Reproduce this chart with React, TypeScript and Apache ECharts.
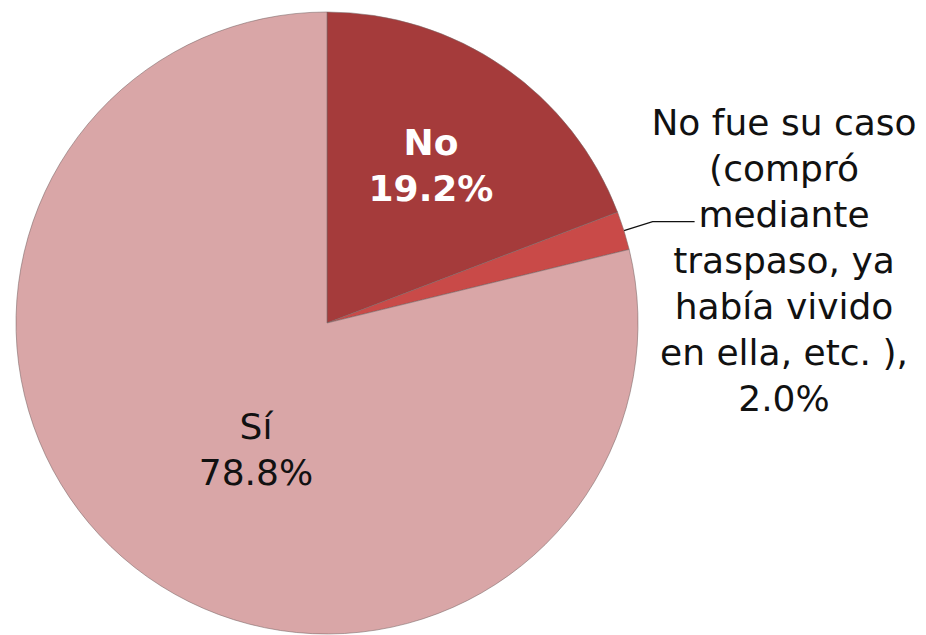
import React, { useEffect, useRef } from "react";
import * as echarts from "echarts";

const categories = [
  "No",
  "No fue su caso\n(compró\nmediante\ntraspaso, ya\nhabía vivido\nen ella, etc. )",
  "Sí",
];
const values = [19.2, 2.0, 78.8];
const colors = ["#A53B3B", "#C94A48", "#D9A6A7"];

export default function App() {
  const ref = useRef<HTMLDivElement>(null);
  useEffect(() => {
    document.body.style.margin = "0";
    const chart = echarts.init(ref.current!, null, { renderer: "svg" });
    const font = "'DejaVu Sans', Verdana, sans-serif";
    const labelPos = [
      { x: 431, y: 165 },
      { x: 784, y: 260 },
      { x: 256, y: 449 },
    ];
    chart.setOption({
      animation: false,
      backgroundColor: "#ffffff",
      series: [
        {
          type: "pie",
          center: [327, 323],
          radius: 311,
          startAngle: 90,
          clockwise: true,
          avoidLabelOverlap: false,
          itemStyle: { borderColor: "rgba(120,100,100,0.55)", borderWidth: 1 },
          label: {
            fontFamily: font,
            fontSize: 36,
            lineHeight: 46,
            color: "#111",
            align: "center",
          },
          labelLine: {
            length: 30,
            length2: 42,
            lineStyle: { color: "#111", width: 1.3 },
          },
          labelLayout: (p: any) => {
            const pos = labelPos[p.dataIndex];
            const out: any = { x: pos.x, y: pos.y, align: "center", verticalAlign: "middle" };
            if (p.dataIndex === 1) out.labelLinePoints = p.labelLinePoints;
            return out;
          },
          data: categories.map((name, i) => ({
            name,
            value: values[i],
            itemStyle: { color: colors[i] },
            label:
              i === 0
                ? {
                    position: "inside",
                    color: "#ffffff",
                    fontWeight: "bold",
                    formatter: (p: any) => `${p.name}\n${p.value.toFixed(1)}%`,
                  }
                : i === 1
                ? {
                    position: "outside",
                    formatter: (p: any) => `${p.name},\n${p.value.toFixed(1)}%`,
                  }
                : {
                    position: "inside",
                    color: "#111",
                    formatter: (p: any) => `${p.name}\n${p.value.toFixed(1)}%`,
                  },
            labelLine: { show: i === 1 },
          })),
        },
      ],
    });
    return () => chart.dispose();
  }, []);
  return <div ref={ref} style={{ width: 926, height: 635 }} />;
}
